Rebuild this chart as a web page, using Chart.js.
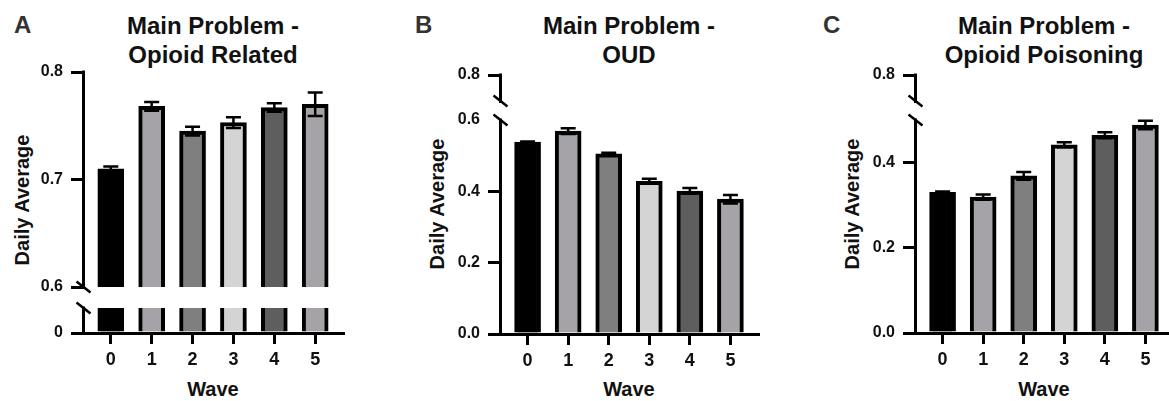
<!DOCTYPE html>
<html lang="en">
<head>
  <meta charset="UTF-8" />
  <title>Main Problem - Daily Average by Wave</title>
  <script src="https://cdn.jsdelivr.net/npm/chart.js"></script>
  <style>
    body { margin: 0; width: 1169px; height: 401px; overflow: hidden; background: #fff; position: relative;
           font-family: "Liberation Sans", Arial, sans-serif; }
    canvas { position: absolute; }
    .letter { position: absolute; font-size: 24px; line-height: 1; font-weight: bold; color: #333; }
    .title { position: absolute; width: 300px; text-align: center; font-size: 24px; line-height: 29px; font-weight: bold; color: #111; }
    .ytitle { position: absolute; width: 200px; text-align: center; font-size: 20px; line-height: 1; font-weight: bold; color: #111;
              transform: translate(-50%, -50%) rotate(-90deg); }
    .xtitle { position: absolute; width: 100px; text-align: center; font-size: 20px; line-height: 1; font-weight: bold; color: #111; }
  </style>
</head>
<body>
  <div class="letter" style="left:14px; top:13px;">A</div>
  <div class="letter" style="left:415px; top:13px;">B</div>
  <div class="letter" style="left:823px; top:13px;">C</div>

  <div class="title" style="left:63px; top:11px;">Main Problem -<br>Opioid Related</div>
  <div class="title" style="left:479px; top:11px;">Main Problem -<br>OUD</div>
  <div class="title" style="left:894px; top:11px;">Main Problem -<br>Opioid Poisoning</div>

  <div class="ytitle" style="left:22px; top:200px;">Daily Average</div>
  <div class="ytitle" style="left:437px; top:204px;">Daily Average</div>
  <div class="ytitle" style="left:852px; top:204px;">Daily Average</div>

  <div class="xtitle" style="left:163px; top:379px;">Wave</div>
  <div class="xtitle" style="left:579px; top:379px;">Wave</div>
  <div class="xtitle" style="left:994px; top:379px;">Wave</div>

  <script>
    // valores
    var waves = [0, 1, 2, 3, 4, 5];
    var waveLabels = ['0', '1', '2', '3', '4', '5'];
    var barColors = ['#000000', '#a5a3a8', '#7f7f7f', '#d4d4d4', '#5e5e5e', '#a5a3a8'];

    var relatedMean = [0.710, 0.768, 0.745, 0.753, 0.767, 0.770];
    var relatedErr  = [0.002, 0.004, 0.004, 0.005, 0.004, 0.011];
    var oudMean     = [0.538, 0.569, 0.505, 0.428, 0.401, 0.378];
    var oudErr      = [0.002, 0.008, 0.003, 0.007, 0.008, 0.012];
    var poisonMean  = [0.330, 0.319, 0.369, 0.442, 0.464, 0.488];
    var poisonErr   = [0.002, 0.006, 0.009, 0.006, 0.007, 0.010];

    var relatedTopTicks = [0.6, 0.7, 0.8];
    var relatedTopLabels = ['0.6', '0.7', '0.8'];
    var relatedLowTicks = [0];
    var relatedLowLabels = ['0'];
    var oudTopTicks = [0.8];
    var oudTopLabels = ['0.8'];
    var oudLowTicks = [0, 0.2, 0.4, 0.6];
    var oudLowLabels = ['0.0', '0.2', '0.4', '0.6'];
    var poisonTopTicks = [0.8];
    var poisonTopLabels = ['0.8'];
    var poisonLowTicks = [0, 0.2, 0.4];
    var poisonLowLabels = ['0.0', '0.2', '0.4'];

    Chart.defaults.font.family = "'Liberation Sans', Arial, sans-serif";
    Chart.defaults.color = '#111';

    var Y_W = 70, PAD = 20, X_H = 40, PAD_R = 10;

    function alinha(v) { return Math.round(v - 1.5) + 1.5; }

    function segmento(o) {
      var c = document.createElement('canvas');
      var h = o.bottom - o.top;
      c.width = Y_W + o.plotW + PAD_R;
      c.height = PAD + h + (o.xAxis ? X_H : PAD);
      c.style.left = (o.plotLeft - Y_W) + 'px';
      c.style.top = (o.top - PAD) + 'px';
      document.body.appendChild(c);

      var tickCores = o.ticks.map(function(v) { return v === o.noMark ? 'rgba(0,0,0,0)' : '#000'; });

      // barras de erro, linha do eixo y, tracinhos e quebra do eixo
      var enfeite = {
        id: 'enfeite',
        afterDatasetsDraw: function(chart) {
          var ctx = chart.ctx, xs = chart.scales.x, ys = chart.scales.y;
          var xEsq = xs.getPixelForValue(xs.min), xDir = xs.getPixelForValue(xs.max);
          var yTop = ys.getPixelForValue(o.max), yBot = ys.getPixelForValue(o.min);
          var pts = chart.data.datasets[0].data;
          var i, x, hi, lo;

          ctx.save();
          ctx.beginPath();
          ctx.rect(xEsq, yTop - 2, xDir - xEsq, yBot - yTop + 2);
          ctx.clip();
          ctx.strokeStyle = '#000';
          ctx.lineWidth = 2.5;
          for (i = 0; i < pts.length; i++) {
            x = xs.getPixelForValue(pts[i].x);
            hi = ys.getPixelForValue(pts[i].y + o.err[i]);
            lo = ys.getPixelForValue(pts[i].y - o.err[i]);
            ctx.beginPath();
            ctx.moveTo(x, hi); ctx.lineTo(x, lo);
            ctx.moveTo(x - 7.5, hi); ctx.lineTo(x + 7.5, hi);
            ctx.moveTo(x - 7.5, lo); ctx.lineTo(x + 7.5, lo);
            ctx.stroke();
          }
          ctx.restore();

          var x0 = alinha(xEsq);
          ctx.save();
          ctx.strokeStyle = '#000';
          ctx.lineWidth = 3;
          ctx.beginPath();
          ctx.moveTo(x0, yTop - 1.5);
          ctx.lineTo(x0, yBot + 1.5);
          ctx.stroke();
          for (i = 0; i < o.ticks.length; i++) {
            if (o.ticks[i] === o.noMark) continue;
            var yt = alinha(ys.getPixelForValue(o.ticks[i]));
            ctx.beginPath();
            ctx.moveTo(x0 - 12, yt);
            ctx.lineTo(x0 + 1.5, yt);
            ctx.stroke();
          }
          ctx.lineWidth = 2.5;
          for (i = 0; i < o.breakAt.length; i++) {
            var yb = o.breakAt[i] === 'top' ? yTop : yBot;
            ctx.beginPath();
            ctx.moveTo(x0 - 7, yb - 5.5);
            ctx.lineTo(x0 + 7, yb + 5.5);
            ctx.stroke();
          }
          ctx.restore();
        }
      };

      new Chart(c, {
        type: 'bar',
        data: {
          datasets: [{
            data: waves.map(function(w, i) { return { x: w, y: o.mean[i] }; }),
            backgroundColor: barColors,
            borderColor: '#000',
            borderWidth: 4,
            borderSkipped: 'start',
            barThickness: 26,
            clip: 0
          }]
        },
        options: {
          responsive: false,
          animation: false,
          devicePixelRatio: 1,
          layout: { padding: { top: PAD, bottom: o.xAxis ? 0 : PAD, left: 0, right: PAD_R } },
          plugins: {
            legend: { display: false },
            tooltip: { enabled: false }
          },
          scales: {
            x: {
              type: 'linear',
              display: !!o.xAxis,
              min: -0.68,
              max: 5.68,
              offset: false,
              afterBuildTicks: function(s) { s.ticks = waves.map(function(v) { return { value: v }; }); },
              afterFit: function(s) { if (o.xAxis) s.height = X_H; },
              border: { color: '#000', width: 3 },
              grid: { drawOnChartArea: false, offset: false, tickLength: 11, color: '#000', lineWidth: 3 },
              ticks: {
                padding: 5,
                color: '#111',
                font: { size: 18, weight: 'bold' },
                callback: function(v, i) { return waveLabels[i]; }
              }
            },
            y: {
              min: o.min,
              max: o.max,
              beginAtZero: false,
              afterBuildTicks: function(s) { s.ticks = o.ticks.map(function(v) { return { value: v }; }); },
              afterFit: function(s) { s.width = Y_W; },
              border: { color: '#000', width: 3 },
              grid: { drawOnChartArea: false, tickLength: 12, lineWidth: 3, color: tickCores },
              ticks: {
                padding: 8,
                color: '#111',
                font: { size: 16, weight: 'bold' },
                callback: function(v, i) { return o.labels[i]; }
              }
            }
          }
        },
        plugins: [enfeite]
      });
    }

    // A - Opioid Related
    segmento({ plotLeft: 83, plotW: 260, top: 72, bottom: 287, min: 0.6, max: 0.8,
               ticks: relatedTopTicks, labels: relatedTopLabels, mean: relatedMean, err: relatedErr, breakAt: ['bottom'] });
    segmento({ plotLeft: 83, plotW: 260, top: 308, bottom: 333, min: 0, max: 0.05, xAxis: true,
               ticks: relatedLowTicks, labels: relatedLowLabels, mean: relatedMean, err: relatedErr, breakAt: ['top'] });

    // B - OUD
    segmento({ plotLeft: 500, plotW: 258, top: 75, bottom: 101, min: 0.7, max: 0.8,
               ticks: oudTopTicks, labels: oudTopLabels, mean: oudMean, err: oudErr, breakAt: ['bottom'] });
    segmento({ plotLeft: 500, plotW: 258, top: 120, bottom: 334, min: 0, max: 0.6, xAxis: true, noMark: 0.6,
               ticks: oudLowTicks, labels: oudLowLabels, mean: oudMean, err: oudErr, breakAt: ['top'] });

    // C - Opioid Poisoning
    segmento({ plotLeft: 915, plotW: 258, top: 75, bottom: 101, min: 0.7, max: 0.8,
               ticks: poisonTopTicks, labels: poisonTopLabels, mean: poisonMean, err: poisonErr, breakAt: ['bottom'] });
    segmento({ plotLeft: 915, plotW: 258, top: 120, bottom: 333, min: 0, max: 0.5, xAxis: true,
               ticks: poisonLowTicks, labels: poisonLowLabels, mean: poisonMean, err: poisonErr, breakAt: ['top'] });
  </script>
</body>
</html>
